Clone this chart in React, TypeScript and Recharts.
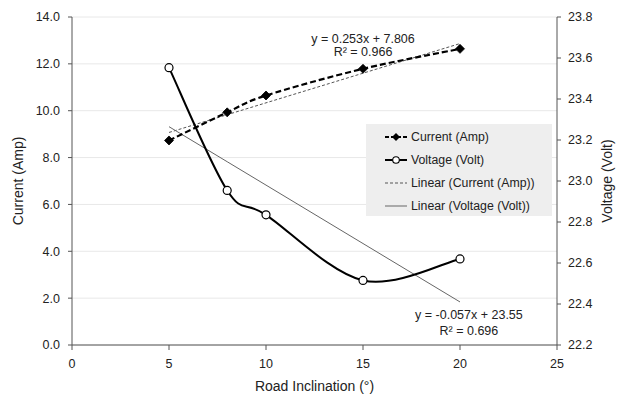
import React from "react";
import {
  ComposedChart,
  Line,
  XAxis,
  YAxis,
  CartesianGrid,
  Legend,
  ReferenceDot,
} from "recharts";

// ---- data ----
const inclination = [5, 8, 10, 15, 20];
const currentAmp = [8.73, 9.93, 10.65, 11.79, 12.64];
const voltageVolt = [23.553, 22.954, 22.835, 22.515, 22.62];

// trend-line equations as printed on the chart
const currentFit = { slope: 0.253, intercept: 7.806 };
const voltageFit = { slope: -0.057, intercept: 23.55 };

const xTicks = [0, 5, 10, 15, 20, 25];
const leftTicks = [0, 2, 4, 6, 8, 10, 12, 14];
const rightTicks = [22.2, 22.4, 22.6, 22.8, 23.0, 23.2, 23.4, 23.6, 23.8];

const seriesNames = [
  "Current (Amp)",
  "Voltage (Volt)",
  "Linear (Current (Amp))",
  "Linear (Voltage (Volt))",
];

const data = inclination.map((x, i) => ({
  x,
  current: currentAmp[i],
  voltage: voltageVolt[i],
  currentLin: currentFit.slope * x + currentFit.intercept,
  voltageLin: voltageFit.slope * x + voltageFit.intercept,
}));

const FONT = "'Liberation Sans', Arial, sans-serif";

// Excel-like smoothed line (Catmull-Rom -> Bezier)
function smoothCurve(context: any) {
  let pts: [number, number][] = [];
  return {
    areaStart() {},
    areaEnd() {},
    lineStart() {
      pts = [];
    },
    point(x: number, y: number) {
      pts.push([+x, +y]);
    },
    lineEnd() {
      const n = pts.length;
      if (!n) return;
      context.moveTo(pts[0][0], pts[0][1]);
      const t = 1 / 6;
      for (let i = 0; i < n - 1; i++) {
        const p0 = pts[i - 1] || pts[i];
        const p1 = pts[i];
        const p2 = pts[i + 1];
        const p3 = pts[i + 2] || p2;
        context.bezierCurveTo(
          p1[0] + (p2[0] - p0[0]) * t,
          p1[1] + (p2[1] - p0[1]) * t,
          p2[0] - (p3[0] - p1[0]) * t,
          p2[1] - (p3[1] - p1[1]) * t,
          p2[0],
          p2[1]
        );
      }
    },
  };
}

const Diamond = (props: any) => {
  const { cx, cy, index } = props;
  const s = 4.5;
  return (
    <polygon
      key={`dia-${index}`}
      points={`${cx},${cy - s} ${cx + s},${cy} ${cx},${cy + s} ${cx - s},${cy}`}
      fill="#000"
      stroke="#000"
      strokeWidth={0.8}
    />
  );
};

const OpenCircle = (props: any) => {
  const { cx, cy, index } = props;
  return (
    <circle
      key={`circ-${index}`}
      cx={cx}
      cy={cy}
      r={4}
      fill="#fff"
      stroke="#000"
      strokeWidth={1.2}
    />
  );
};

const LegendBox = () => {
  const row = (i: number, sym: React.ReactNode) => (
    <div
      key={i}
      style={{ display: "flex", alignItems: "center", height: 23 }}
    >
      <svg width={26} height={12} style={{ marginRight: 1 }}>
        {sym}
      </svg>
      <span>{seriesNames[i]}</span>
    </div>
  );
  return (
    <div
      style={{
        background: "#eeeeee",
        width: 186,
        height: 92,
        boxSizing: "border-box",
        padding: "1px 0 0 18px",
        fontFamily: FONT,
        fontSize: 12.3,
        color: "#222",
        textAlign: "left",
        whiteSpace: "nowrap",
      }}
    >
      {row(
        0,
        <g>
          <line x1={1} y1={6} x2={23} y2={6} stroke="#000" strokeWidth={2} strokeDasharray="4 2" />
          <polygon points="12,2 16,6 12,10 8,6" fill="#000" />
        </g>
      )}
      {row(
        1,
        <g>
          <line x1={1} y1={6} x2={23} y2={6} stroke="#000" strokeWidth={2} />
          <circle cx={12} cy={6} r={3.3} fill="#fff" stroke="#000" strokeWidth={1.1} />
        </g>
      )}
      {row(
        2,
        <line x1={1} y1={6} x2={23} y2={6} stroke="#555" strokeWidth={1} strokeDasharray="3 2" />
      )}
      {row(3, <line x1={1} y1={6} x2={23} y2={6} stroke="#666" strokeWidth={1} />)}
    </div>
  );
};

export default function App() {
  const tickStyle = { fontSize: 12.5, fill: "#222", fontFamily: FONT };
  const annStyle = { fontSize: 12.5, fill: "#222", fontFamily: FONT };
  return (
    <div style={{ position: "absolute", left: 0, top: 0, background: "#fff" }}>
      <ComposedChart
        width={626}
        height={403}
        data={data}
        margin={{ top: 17, right: 0, bottom: 0, left: 0 }}
        style={{ fontFamily: FONT }}
      >
        <CartesianGrid
          yAxisId="left"
          horizontal
          vertical={false}
          stroke="#e8e8e8"
          strokeWidth={1}
        />
        <XAxis
          dataKey="x"
          type="number"
          domain={[0, 25]}
          ticks={xTicks}
          height={58}
          tickSize={5}
          tickMargin={9}
          stroke="#555"
          tick={tickStyle}
          label={{
            value: "Road Inclination (°)",
            position: "insideBottom",
            offset: 12,
            style: { fontSize: 14, fill: "#222", fontFamily: FONT },
          }}
        />
        <YAxis
          yAxisId="left"
          orientation="left"
          domain={[0, 14]}
          ticks={leftTicks}
          width={72}
          tickSize={4}
          tickMargin={8}
          stroke="#555"
          tick={tickStyle}
          tickFormatter={(v: number) => v.toFixed(1)}
          label={{
            value: "Current (Amp)",
            angle: -90,
            position: "center",
            dx: -18,
            style: { fontSize: 14, fill: "#222", fontFamily: FONT, textAnchor: "middle" },
          }}
        />
        <YAxis
          yAxisId="right"
          orientation="right"
          domain={[22.2, 23.8]}
          ticks={rightTicks}
          width={69}
          tickSize={4}
          tickMargin={7}
          stroke="#555"
          tick={tickStyle}
          tickFormatter={(v: number) => v.toFixed(1)}
          label={{
            value: "Voltage (Volt)",
            angle: -90,
            position: "center",
            dx: 16,
            style: { fontSize: 14, fill: "#222", fontFamily: FONT, textAnchor: "middle" },
          }}
        />
        <Line
          yAxisId="left"
          dataKey="currentLin"
          name={seriesNames[2]}
          type="linear"
          stroke="#555"
          strokeWidth={1}
          strokeDasharray="3 2"
          dot={false}
          activeDot={false}
          isAnimationActive={false}
        />
        <Line
          yAxisId="right"
          dataKey="voltageLin"
          name={seriesNames[3]}
          type="linear"
          stroke="#666"
          strokeWidth={1}
          dot={false}
          activeDot={false}
          isAnimationActive={false}
        />
        <Line
          yAxisId="left"
          dataKey="current"
          name={seriesNames[0]}
          type={smoothCurve as any}
          stroke="#000"
          strokeWidth={2.2}
          strokeDasharray="6 3"
          dot={Diamond}
          activeDot={false}
          isAnimationActive={false}
        />
        <Line
          yAxisId="right"
          dataKey="voltage"
          name={seriesNames[1]}
          type={smoothCurve as any}
          stroke="#000"
          strokeWidth={2}
          dot={OpenCircle}
          activeDot={false}
          isAnimationActive={false}
        />
        <ReferenceDot
          yAxisId="left"
          x={15}
          y={13.08}
          r={1}
          fill="none"
          stroke="none"
          label={{ value: "y = 0.253x + 7.806", position: "center", style: annStyle }}
        />
        <ReferenceDot
          yAxisId="left"
          x={15}
          y={12.53}
          r={1}
          fill="none"
          stroke="none"
          label={{ value: "R² = 0.966", position: "center", style: annStyle }}
        />
        <ReferenceDot
          yAxisId="left"
          x={20.46}
          y={1.28}
          r={1}
          fill="none"
          stroke="none"
          label={{ value: "y = -0.057x + 23.55", position: "center", style: annStyle }}
        />
        <ReferenceDot
          yAxisId="left"
          x={20.46}
          y={0.62}
          r={1}
          fill="none"
          stroke="none"
          label={{ value: "R² = 0.696", position: "center", style: annStyle }}
        />
        <Legend
          layout="horizontal"
          verticalAlign="middle"
          align="center"
          content={<LegendBox />}
          wrapperStyle={{ position: "absolute", left: 366, top: 124, width: 186, height: 92 }}
        />
      </ComposedChart>
    </div>
  );
}
